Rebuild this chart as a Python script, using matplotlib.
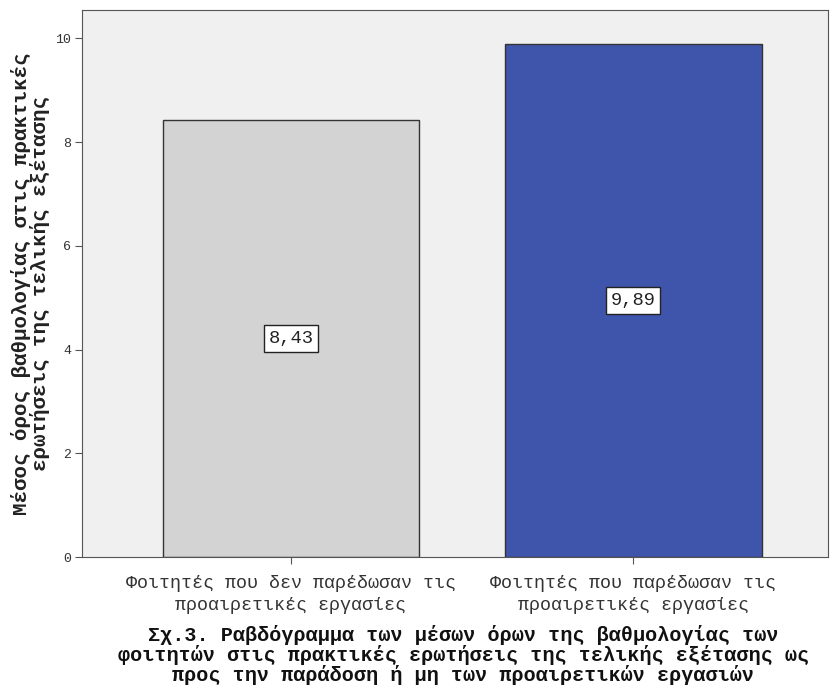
import matplotlib
matplotlib.use("Agg")
import matplotlib.pyplot as plt

# data
groups = ["Φοιτητές που δεν παρέδωσαν τις\nπροαιρετικές εργασίες",
          "Φοιτητές που παρέδωσαν τις\nπροαιρετικές εργασίες"]
means = [8.43, 9.89]
value_labels = ["8,43", "9,89"]
yticks = [0, 2, 4, 6, 8, 10]
bar_colors = ["#D3D3D3", "#3F55AC"]

mono = ["Liberation Mono", "DejaVu Sans Mono"]
plt.rcParams['font.family'] = mono

fig = plt.figure(figsize=(8.3, 6.86), dpi=100)
ax = fig.add_axes([0.099, 0.188, 0.899, 0.797])
ax.set_facecolor("#F0F0F0")

x = range(len(means))
ax.bar(x, means, width=0.75, color=bar_colors, edgecolor="#333333", linewidth=1.0)

# value boxes in the middle of each bar
for i, v in enumerate(means):
    ax.text(i, v / 2, value_labels[i], ha="center", va="center", fontsize=13.5,
            color="#222222",
            bbox=dict(boxstyle="square,pad=0.25", facecolor="white", edgecolor="#222222", linewidth=1))

ax.set_xlim(-0.61, 1.57)
ax.set_ylim(0, 10.54)
ax.set_yticks(yticks)
ax.set_yticklabels([str(t) for t in yticks], fontsize=9.5, color="#333333")
ax.set_xticks(list(x))
ax.set_xticklabels(groups, fontsize=13.2, color="#333333", linespacing=1.4)
ax.tick_params(axis="y", length=5, color="#555555", pad=3)
ax.tick_params(axis="x", length=5, color="#555555", pad=8)
for s in ax.spines.values():
    s.set_color("#555555")

ax.set_ylabel("Μέσος όρος βαθμολογίας στις πρακτικές\nερωτήσεις της τελικής εξέτασης",
              fontsize=15, fontweight="bold", color="#222222", linespacing=0.95)
ax.yaxis.set_label_coords(-0.043, 0.5)

fig.text(0.558, 0.045,
         "Σχ.3. Ραβδόγραμμα των μέσων όρων της βαθμολογίας των\n"
         "φοιτητών στις πρακτικές ερωτήσεις της τελικής εξέτασης ως\n"
         "προς την παράδοση ή μη των προαιρετικών εργασιών",
         ha="center", va="center", fontsize=14.5, fontweight="bold", color="#111111",
         linespacing=1.0)

fig.savefig("out.png", dpi=100)
